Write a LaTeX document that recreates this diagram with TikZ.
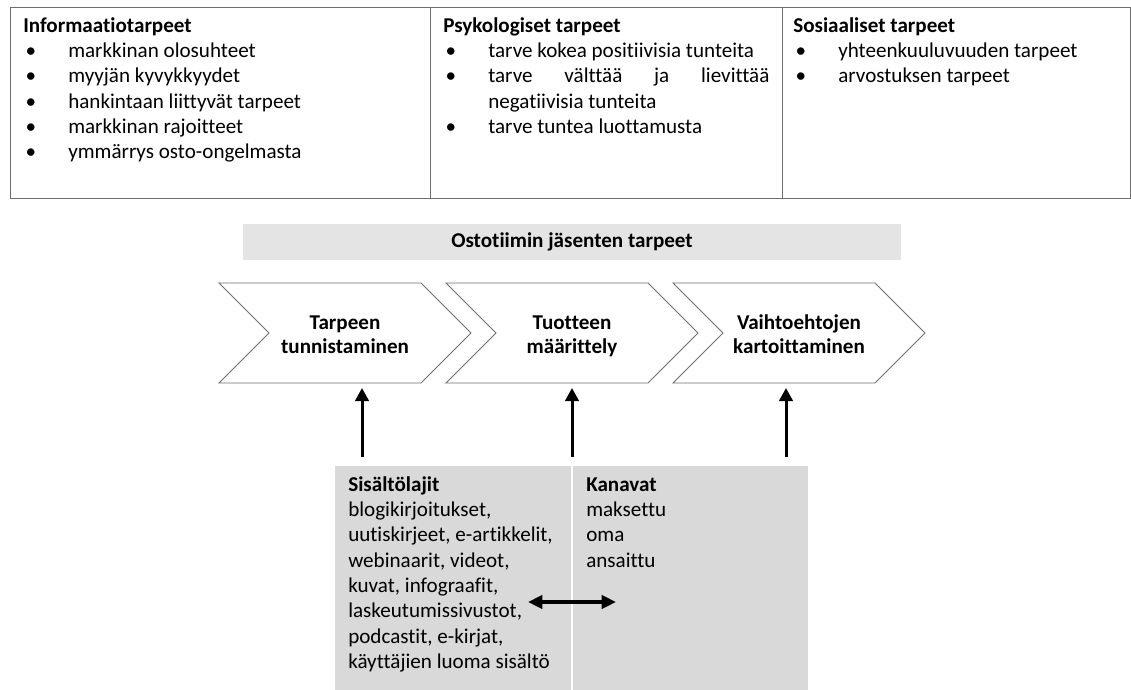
\documentclass[tikz,border=0pt]{standalone}
\usepackage{fontspec}
\setmainfont{Carlito}[Ligatures=NoCommon]
\usetikzlibrary{arrows.meta,positioning,calc}

\definecolor{banneri}{HTML}{E4E4E4}
\definecolor{laatikko}{HTML}{D9D9D9}
\definecolor{reuna}{HTML}{6F6F6F}

\newcommand{\pallo}{\makebox[1.125cm][l]{\hspace{0.06cm}\textbullet}}

\tikzset{
  teksti/.style={anchor=north west, inner sep=0pt, align=left,
    font=\fontsize{15}{18}\selectfont},
  vaihe/.style={draw=reuna, line width=0.7pt, fill=white},
  nuoli/.style={line width=0.075cm, -{Triangle[length=0.33cm,width=0.34cm]}},
  kaksinuoli/.style={line width=0.09cm, {Triangle[length=0.36cm,width=0.33cm]}-{Triangle[length=0.36cm,width=0.33cm]}}
}

\begin{document}
\begin{tikzpicture}[x=0.025cm,y=-0.025cm]
\useasboundingbox (0,0) rectangle (1131,690);

% tarpeiden taulukko
\draw[reuna, line width=0.7pt] (10,7) rectangle (1130,198);
\draw[reuna, line width=0.7pt] (430,7) -- (430,198);
\draw[reuna, line width=0.7pt] (782,7) -- (782,198);

\node[teksti] (info) at (23,14.3) {\strut\textbf{Informaatiotarpeet}\\
  \pallo markkinan olosuhteet\\
  \pallo myyjän kyvykkyydet\\
  \pallo hankintaan liittyvät tarpeet\\
  \pallo markkinan rajoitteet\\
  \pallo ymmärrys osto-ongelmasta};
\node[teksti] (psyk) at (443,14.3) {\strut\textbf{Psykologiset tarpeet}\\
  \pallo tarve kokea positiivisia tunteita\\
  \pallo\makebox[7.025cm][s]{tarve välttää ja lievittää}\\
  \hspace*{1.125cm}negatiivisia tunteita\\
  \pallo tarve tuntea luottamusta};
\node[teksti] (sos) at (793,14.3) {\strut\textbf{Sosiaaliset tarpeet}\\
  \pallo yhteenkuuluvuuden tarpeet\\
  \pallo arvostuksen tarpeet};

% ostotiimi
\fill[banneri] (243,224) rectangle (901,260);
\node[font=\fontsize{15}{18}\selectfont\bfseries] (tiimi) at (572,242) {Ostotiimin jäsenten tarpeet};

% prosessin vaiheet
\foreach \x/\nimi/\txt in {219/tun/{Tarpeen\\tunnistaminen},
    446/maa/{Tuotteen\\määrittely},
    673/kar/{Vaihtoehtojen\\kartoittaminen}}{
  \draw[vaihe] (\x,283) -- ++(202,0) -- ++(50,50) -- ++(-50,50)
    -- ++(-202,0) -- ++(50,-50) -- cycle;
  \node[anchor=north, inner sep=0pt, align=center,
    font=\fontsize{15}{17.5}\selectfont\bfseries] (\nimi) at (\x+126,311.7) {\strut\txt};
}

% sisältö ja kanavat
\fill[laatikko] (335,466) rectangle (808,690);
\draw[white, line width=1.2pt] (572,466) -- (572,690);

\node[teksti] (lajit) at (348,473.3) {\strut\textbf{Sisältölajit}\\
  blogikirjoitukset,\\
  uutiskirjeet, e-artikkelit,\\
  webinaarit, videot,\\
  kuvat, infograafit,\\
  laskeutumissivustot,\\
  podcastit, e-kirjat,\\
  käyttäjien luoma sisältö};
\node[teksti] (kanavat) at (586,473.3) {\strut\textbf{Kanavat}\\
  maksettu\\
  oma\\
  ansaittu};

% nuolet
\foreach \x/\i in {362/1,572/2,786/3}{
  \coordinate (ala\i) at (\x,457);
  \coordinate (yla\i) at (\x,388);
  \draw[nuoli] (ala\i) -- (yla\i);
}
\coordinate (vasen) at (528,602);
\coordinate (oikea) at (616,602);
\draw[kaksinuoli] (vasen) -- (oikea);

\end{tikzpicture}
\end{document}
